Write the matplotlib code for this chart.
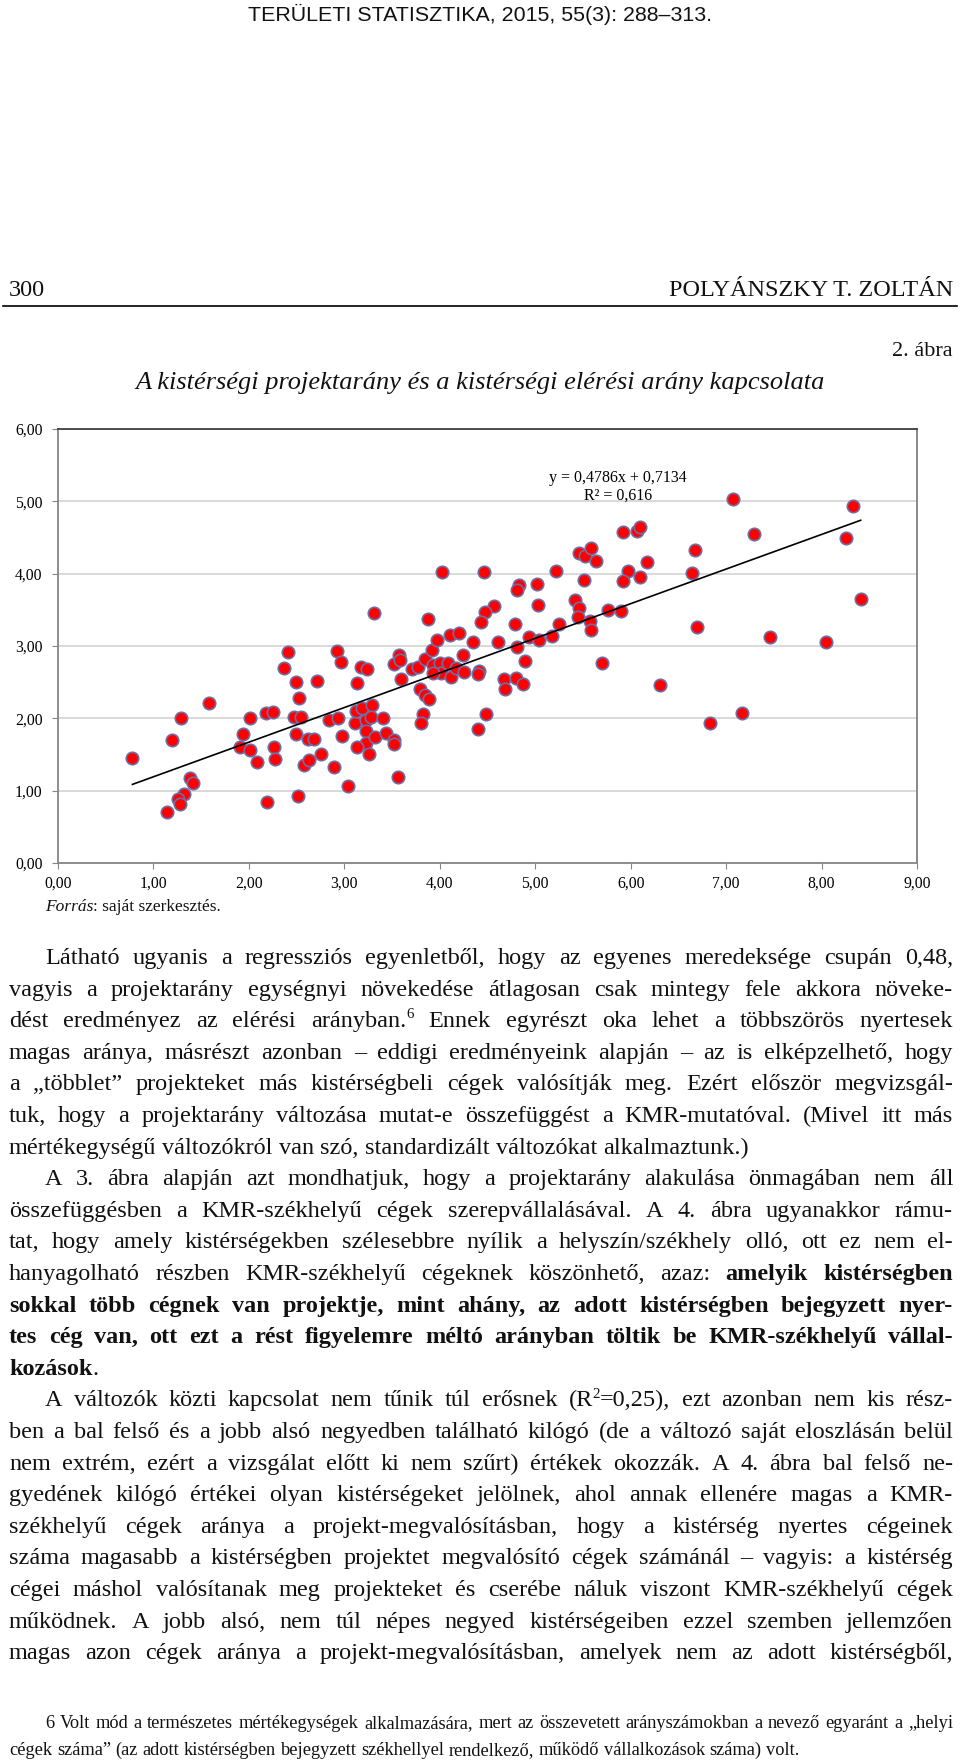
import re
import matplotlib
matplotlib.use('Agg')
import matplotlib.pyplot as plt
from matplotlib.font_manager import FontProperties
from matplotlib.ticker import FixedLocator, FuncFormatter

# kistérségi projektarány (x) és kistérségi elérési arány (y), leolvasva
xs = [0.78, 1.19, 1.29, 1.58, 1.38, 1.41, 1.32, 1.26, 1.28, 1.14, 1.94, 1.91,
      2.01, 2.01, 2.09, 2.18, 2.25, 2.26, 2.27, 2.19, 2.41, 2.37, 2.49, 2.53,
      2.47, 2.55, 2.49, 2.62, 2.68, 2.71, 2.58, 2.63, 2.76, 2.51, 2.84, 2.93,
      2.89, 2.92, 2.97, 2.98, 3.04, 3.13, 3.17, 3.24, 3.11, 3.12, 3.19, 3.23,
      3.29, 3.28, 3.23, 3.23, 3.32, 3.13, 3.26, 3.40, 3.44, 3.52, 3.52, 3.56,
      3.52, 3.57, 3.58, 3.59, 3.71, 3.77, 3.79, 3.85, 3.89, 3.82, 3.80, 3.85,
      3.92, 3.97, 3.93, 4.00, 4.01, 3.31, 3.88, 3.93, 4.02, 4.46, 4.57, 4.47,
      4.43, 4.11, 4.20, 4.35, 4.61, 4.24, 4.09, 4.12, 4.17, 4.25, 4.41, 4.40,
      4.48, 4.40, 4.67, 4.68, 4.80, 4.87, 4.89, 4.81, 4.83, 4.81, 5.02, 5.03,
      4.79, 4.94, 5.04, 5.18, 5.25, 5.22, 5.46, 5.52, 5.58, 5.64, 5.51, 5.42,
      5.46, 5.45, 5.57, 5.58, 5.76, 5.90, 5.70, 5.92, 6.07, 6.10, 5.97, 5.92,
      6.10, 6.17, 6.31, 6.64, 6.67, 6.70, 6.83, 7.07, 7.17, 7.29, 7.46, 8.05,
      8.26, 8.33, 8.41]
ys = [1.45, 1.70, 2.01, 2.21, 1.18, 1.10, 0.95, 0.89, 0.81, 0.71, 1.79, 1.61,
      2.00, 1.56, 1.39, 2.08, 2.09, 1.61, 1.44, 0.85, 2.92, 2.70, 2.50, 2.28,
      2.02, 2.02, 1.79, 1.71, 1.71, 2.51, 1.36, 1.43, 1.50, 0.92, 1.98, 2.00,
      1.33, 2.93, 2.78, 1.75, 1.06, 2.49, 2.71, 2.68, 1.93, 2.10, 2.14, 1.98,
      2.18, 2.02, 1.82, 1.66, 1.74, 1.61, 1.51, 2.01, 1.80, 1.70, 1.65, 1.19,
      2.75, 2.87, 2.81, 2.55, 2.68, 2.71, 2.40, 2.32, 2.27, 2.06, 1.93, 2.82,
      2.94, 3.08, 2.74, 2.76, 2.62, 3.46, 3.38, 2.62, 4.02, 4.02, 3.55, 3.47,
      3.33, 3.15, 3.18, 3.05, 3.06, 2.87, 2.76, 2.57, 2.70, 2.64, 2.66, 2.61,
      2.06, 1.85, 2.55, 2.41, 2.56, 2.48, 2.79, 2.99, 3.84, 3.77, 3.86, 3.56,
      3.30, 3.13, 3.08, 3.14, 3.30, 4.03, 4.29, 4.24, 4.35, 4.17, 3.91, 3.63,
      3.52, 3.40, 3.35, 3.22, 3.50, 3.48, 2.77, 4.57, 4.59, 4.65, 4.04, 3.90,
      3.95, 4.16, 2.46, 4.01, 4.33, 3.26, 1.94, 5.03, 2.08, 4.55, 3.13, 3.05,
      4.50, 4.94, 3.65]
slope, intercept, r2 = 0.4786, 0.7134, 0.616
x_ticks = [0, 1, 2, 3, 4, 5, 6, 7, 8, 9]
y_ticks = [0, 1, 2, 3, 4, 5, 6]

head = "TERÜLETI STATISZTIKA, 2015, 55(3): 288–313."
page_no = "300"
author = "POLYÁNSZKY T. ZOLTÁN"
fig_no = "2. ábra"
title = "A kistérségi projektarány és a kistérségi elérési arány kapcsolata"
source = "Forrás"
source_rest = ": saját szerkesztés."

# (szöveg, behúzás, sorkizárt)  **félkövér**, ^felső index^
body = [
    ("Látható ugyanis a regressziós egyenletből, hogy az egyenes meredeksége csupán 0,48,", True, True),
    ("vagyis a projektarány egységnyi növekedése átlagosan csak mintegy fele akkora növeke-", False, True),
    ("dést eredményez az elérési arányban.^6^ Ennek egyrészt oka lehet a többszörös nyertesek", False, True),
    ("magas aránya, másrészt azonban – eddigi eredményeink alapján – az is elképzelhető, hogy", False, True),
    ("a „többlet” projekteket más kistérségbeli cégek valósítják meg. Ezért először megvizsgál-", False, True),
    ("tuk, hogy a projektarány változása mutat-e összefüggést a KMR-mutatóval. (Mivel itt más", False, True),
    ("mértékegységű változókról van szó, standardizált változókat alkalmaztunk.)", False, False),
    ("A 3. ábra alapján azt mondhatjuk, hogy a projektarány alakulása önmagában nem áll", True, True),
    ("összefüggésben a KMR-székhelyű cégek szerepvállalásával. A 4. ábra ugyanakkor rámu-", False, True),
    ("tat, hogy amely kistérségekben szélesebbre nyílik a helyszín/székhely olló, ott ez nem el-", False, True),
    ("hanyagolható részben KMR-székhelyű cégeknek köszönhető, azaz: **amelyik kistérségben**", False, True),
    ("**sokkal több cégnek van projektje, mint ahány, az adott kistérségben bejegyzett nyer-**", False, True),
    ("**tes cég van, ott ezt a rést figyelemre méltó arányban töltik be KMR-székhelyű vállal-**", False, True),
    ("**kozások**.", False, False),
    ("A változók közti kapcsolat nem tűnik túl erősnek (R^2^=0,25), ezt azonban nem kis rész-", True, True),
    ("ben a bal felső és a jobb alsó negyedben található kilógó (de a változó saját eloszlásán belül", False, True),
    ("nem extrém, ezért a vizsgálat előtt ki nem szűrt) értékek okozzák. A 4. ábra bal felső ne-", False, True),
    ("gyedének kilógó értékei olyan kistérségeket jelölnek, ahol annak ellenére magas a KMR-", False, True),
    ("székhelyű cégek aránya a projekt-megvalósításban, hogy a kistérség nyertes cégeinek", False, True),
    ("száma magasabb a kistérségben projektet megvalósító cégek számánál – vagyis: a kistérség", False, True),
    ("cégei máshol valósítanak meg projekteket és cserébe náluk viszont KMR-székhelyű cégek", False, True),
    ("működnek. A jobb alsó, nem túl népes negyed kistérségeiben ezzel szemben jellemzően", False, True),
    ("magas azon cégek aránya a projekt-megvalósításban, amelyek nem az adott kistérségből,", False, True),
]
footnote = [
    ("6 Volt mód a természetes mértékegységek alkalmazására, mert az összevetett arányszámokban a nevező egyaránt a „helyi", True, True),
    ("cégek száma” (az adott kistérségben bejegyzett székhellyel rendelkező, működő vállalkozások száma) volt.", False, False),
]

W, H = 960, 1763
SERIF = 'Liberation Serif'
SANS = 'Liberation Sans'

fig = plt.figure(figsize=(W / 100, H / 100), dpi=100)
renderer = fig.canvas.get_renderer()

page = fig.add_axes([0, 0, 1, 1])
page.set_xlim(0, W)
page.set_ylim(H, 0)
page.axis('off')


def fp(size, bold=False, italic=False, family=SERIF):
    return FontProperties(family=family, size=size,
                          weight='bold' if bold else 'normal',
                          style='italic' if italic else 'normal')


def tw(s, prop):
    return renderer.get_text_width_height_descent(s, prop, ismath=False)[0]


def parse(s):
    words = [[]]
    bold = sup = False
    for tok in re.split(r'(\*\*|\^)', s):
        if tok == '**':
            bold = not bold
            continue
        if tok == '^':
            sup = not sup
            continue
        for k, part in enumerate(tok.split(' ')):
            if k > 0:
                words.append([])
            if part:
                words[-1].append((part, bold, sup))
    return [w for w in words if w]


def props_for(size):
    return {(b, u): fp(size * (0.62 if u else 1), b) for b in (False, True) for u in (False, True)}


def paragraph(lines, sizes, y0, step, left=9, right=953, indent=36):
    # first size is the block size; a smaller one is used only if a line won't fit
    for i, (txt, ind, just) in enumerate(lines):
        words = parse(txt)
        x0 = left + (indent if ind else 0)
        for size in sizes:
            props = props_for(size)
            sp = tw('a a', props[(False, False)]) - tw('aa', props[(False, False)])
            widths = [sum(tw(p, props[(b, u)]) for p, b, u in w) for w in words]
            if not just or sum(widths) + 0.5 * sp * (len(words) - 1) <= right - x0:
                break
        gap = (right - x0 - sum(widths)) / (len(words) - 1) if just else sp
        y = y0 + i * step
        x = x0
        for w, wd in zip(words, widths):
            xx = x
            for p, b, u in w:
                dy = -0.36 * size * 100 / 72 if u else 0
                page.text(xx, y + dy, p, fontproperties=props[(b, u)],
                          ha='left', va='baseline', color='#111111')
                xx += tw(p, props[(b, u)])
            x += wd + gap


# running heads
page.text(480, 14, head, ha='center', va='center', color='#111111',
          fontproperties=fp(15.4, family=SANS))
page.text(9, 290, page_no, ha='left', va='center', fontproperties=fp(17.5), color='#111111')
page.text(953, 290, author, ha='right', va='center', fontproperties=fp(17.5), color='#111111')
page.plot([3, 957], [306, 306], color='black', lw=1.2)
page.text(953, 352, fig_no, ha='right', va='center', fontproperties=fp(16.0), color='#111111')
page.text(480, 383, title, ha='center', va='center', color='#111111',
          fontproperties=fp(19.0, italic=True))

# source line
p_it, p_rm = fp(12.5, italic=True), fp(12.5)
page.text(45, 907, source, ha='left', va='center', fontproperties=p_it, color='#111111')
page.text(45 + tw(source, p_it), 907, source_rest, ha='left', va='center', fontproperties=p_rm, color='#111111')

paragraph(body, [17.5, 17.25, 17.0, 16.75, 16.5], 964, 31.6)
paragraph(footnote, [13.25, 13.0, 12.75, 12.5], 1728, 27)

# chart
ax = fig.add_axes([58 / W, 1 - 863 / H, (917 - 58) / W, (863 - 429) / H])
ax.set_xlim(0, 9)
ax.set_ylim(0, 6)
ax.yaxis.set_major_locator(FixedLocator(y_ticks))
ax.xaxis.set_major_locator(FixedLocator(x_ticks))
fmt = FuncFormatter(lambda v, _: f"{v:.2f}".replace('.', ','))
ax.xaxis.set_major_formatter(fmt)
ax.yaxis.set_major_formatter(fmt)
for lab in ax.get_xticklabels() + ax.get_yticklabels():
    lab.set_fontproperties(fp(11.3))
ax.tick_params(axis='both', length=4, color='#868686', direction='out')
ax.tick_params(axis='y', pad=7)
ax.tick_params(axis='x', pad=5)
ax.grid(axis='y', color='#D0D0D0', lw=1.1)
ax.set_axisbelow(True)
ax.spines['left'].set_color('#868686')
ax.spines['bottom'].set_color('#868686')
ax.spines['top'].set_color('#404040')
ax.spines['right'].set_color('#808080')
for sp in ax.spines.values():
    sp.set_linewidth(1.3)

ax.scatter(xs, ys, s=80, c='#FF0000', edgecolors='#6E6EA6', linewidths=1.2, zorder=3)
x_line = [min(xs), max(xs)]
ax.plot(x_line, [slope * v + intercept for v in x_line], color='black', lw=1.2, zorder=4)
eq = f"y = {slope:.4f}x + {intercept:.4f}".replace('.', ',') + "\n" + f"R² = {r2:.3f}".replace('.', ',')
ax.text(5.87, 5.20, eq, ha='center', va='center', multialignment='center',
        fontproperties=fp(11.5), linespacing=1.15, zorder=5)

fig.savefig('out.png', dpi=100)
